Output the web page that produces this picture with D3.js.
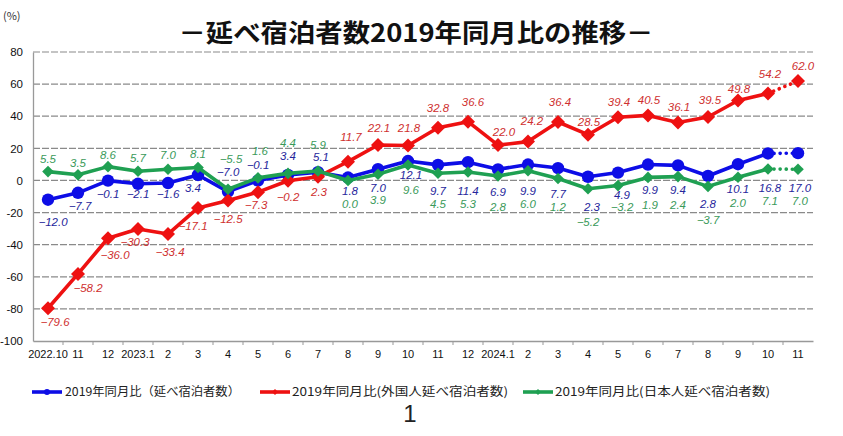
<!DOCTYPE html>
<html><head><meta charset="utf-8">
<script src="https://cdn.jsdelivr.net/npm/d3@7"></script>
<style>
html,body{margin:0;padding:0;background:#fff;}
svg{display:block;}
</style>
</head><body>
<svg id="chart" width="843" height="436"></svg>
<script>
// ---- data ----
const categories = ["2022.10","11","12","2023.1","2","3","4","5","6","7","8","9","10","11 ","12 ","2024.1","2 ","3 ","4 ","5 ","6 ","7 ","8 ","9 ","10 ","11  "];
const tickLabels = ["2022.10","11","12","2023.1","2","3","4","5","6","7","8","9","10","11","12","2024.1","2","3","4","5","6","7","8","9","10","11"];
const totalValues    = [-12.0,-7.7,-0.1,-2.1,-1.6,3.4,-7.0,-0.1,3.4,5.1,1.8,7.0,12.1,9.7,11.4,6.9,9.9,7.7,2.3,4.9,9.9,9.4,2.8,10.1,16.8,17.0];
const foreignValues  = [-79.6,-58.2,-36.0,-30.3,-33.4,-17.1,-12.5,-7.3,-0.2,2.3,11.7,22.1,21.8,32.8,36.6,22.0,24.2,36.4,28.5,39.4,40.5,36.1,39.5,49.8,54.2,62.0];
const japaneseValues = [5.5,3.5,8.6,5.7,7.0,8.1,-5.5,1.6,4.4,5.9,0.0,3.9,9.6,4.5,5.3,2.8,6.0,1.2,-5.2,-3.2,1.9,2.4,-3.7,2.0,7.1,7.0];
const yTicks = [80,60,40,20,0,-20,-40,-60,-80,-100];
const seriesNames = ["2019年同月比（延べ宿泊者数）","2019年同月比(外国人延べ宿泊者数)","2019年同月比(日本人延べ宿泊者数)"];

// ---- label placement (layout, px offsets from the point) ----
const totalLabelDy = [22,13,13,10,11,13,-20,-16,-19,-15,13,19,14,26,29,23,26,26,30,22,25,25,28,25,35,35];
const totalLabelDx = [5,2,0,0,0,-5,0,0,0,3,2,0,3,0,0,0,0,0,4,4,2,0,0,0,2,2];
const foreignLabelDy = [14,14,17,13,18,18,18,13,16,15,-25,-17,-17,-20,-20,-13,-21,-20,-13,-15,-15,-16,-17,-12,-19,-15];
const foreignLabelDx = [7,10,7,-3,2,-5,0,-2,0,1,3,1,1,0,5,6,4,2,1,1,1,1,2,1,2,5];
const japaneseLabelDy = [-13,-12,-12,-13,-14,-13,-30,-27,-30,-26,24,26,25,31,32,31,33,28,33,21,28,28,34,26,32,32];
const japaneseLabelDx = [0,0,0,0,0,0,3,2,0,0,2,0,3,0,0,0,0,0,0,4,2,0,0,0,2,2];

const svg = d3.select("#chart");
const plotLeft = 33, plotRight = 813, plotTop = 52, plotBottom = 341;

const x = d3.scaleBand().domain(categories).range([plotLeft, plotRight]).paddingInner(0).paddingOuter(0);
const y = d3.scaleLinear().domain([-100, 80]).range([plotBottom, plotTop]);
const cx = (i) => x(categories[i]) + x.bandwidth() / 2;

const numFont = "'Liberation Sans', Arial, sans-serif";
const cjkFont = "'Noto Sans CJK JP', 'Noto Sans', sans-serif";

// title
svg.append("text")
  .attr("x", 416).attr("y", 42)
  .attr("text-anchor", "middle")
  .attr("font-family", cjkFont).attr("font-weight", "bold")
  .attr("font-size", 25).attr("fill", "#111")
  .attr("textLength", 475).attr("lengthAdjust", "spacingAndGlyphs")
  .text("－延べ宿泊者数2019年同月比の推移－");

svg.append("text")
  .attr("x", 3).attr("y", 20)
  .attr("font-family", cjkFont).attr("font-size", 11).attr("fill", "#333")
  .text("(%)");

// gridlines
svg.append("g").selectAll("line")
  .data(yTicks.filter(d => d !== -100))
  .join("line")
  .attr("x1", plotLeft).attr("x2", plotRight)
  .attr("y1", d => y(d)).attr("y2", d => y(d))
  .attr("stroke", "#8a8a8a").attr("stroke-width", 1.2)
  .attr("stroke-dasharray", "7,2");

// y axis
const yAxis = d3.axisLeft(y).tickValues(yTicks).tickSize(0).tickPadding(10).tickFormat(d => String(d));
const gy = svg.append("g").attr("transform", `translate(${plotLeft},0)`).call(yAxis);
gy.select(".domain").attr("stroke", "#999").attr("stroke-width", 1.3);
gy.selectAll("text").attr("font-family", numFont).attr("font-size", 11.5).attr("fill", "#111");

// x axis
const xAxis = d3.axisBottom(x).tickSize(0).tickPadding(9).tickFormat((d, i) => tickLabels[i]);
const gx = svg.append("g").attr("transform", `translate(0,${plotBottom})`).call(xAxis);
gx.select(".domain").attr("stroke", "#999").attr("stroke-width", 1.3);
gx.selectAll("text").attr("font-family", numFont).attr("font-size", 11).attr("fill", "#111");
// tick marks at band boundaries
svg.append("g").selectAll("line")
  .data(d3.range(1, categories.length))
  .join("line")
  .attr("x1", i => x(categories[i])).attr("x2", i => x(categories[i]))
  .attr("y1", plotBottom).attr("y2", plotBottom + 4)
  .attr("stroke", "#999").attr("stroke-width", 1);

// series
const series = [
  {vals: totalValues, color: "#0d0de6", labelColor: "#26269c", marker: "circle", size: 6.2, dy: totalLabelDy, dx: totalLabelDx},
  {vals: foreignValues, color: "#ee1111", labelColor: "#cf3030", marker: "diamond", size: 7, dy: foreignLabelDy, dx: foreignLabelDx},
  {vals: japaneseValues, color: "#1fa052", labelColor: "#3a9a5a", marker: "diamond", size: 5.8, dy: japaneseLabelDy, dx: japaneseLabelDx}
];

const line = d3.line().x((d) => cx(d.i)).y(d => y(d.v));

function drawMarker(g, type, size, color, px, py) {
  if (type === "circle") {
    g.append("circle").attr("cx", px).attr("cy", py).attr("r", size).attr("fill", color);
  } else {
    g.append("path")
      .attr("d", `M${px},${py - size}L${px + size},${py}L${px},${py + size}L${px - size},${py}Z`)
      .attr("fill", color);
  }
}

series.forEach(s => {
  const g = svg.append("g");
  const pts = s.vals.map((v, i) => ({i, v}));
  const n = pts.length;
  g.append("path").datum(pts.slice(0, n - 1))
    .attr("d", line).attr("fill", "none")
    .attr("stroke", s.color).attr("stroke-width", 3.6).attr("stroke-linejoin", "round");
  g.append("path").datum(pts.slice(n - 2))
    .attr("d", line).attr("fill", "none")
    .attr("stroke", s.color).attr("stroke-width", 3.6)
    .attr("stroke-dasharray", "0.1,6").attr("stroke-linecap", "round")
    .attr("stroke-dashoffset", -6);
  pts.forEach(p => drawMarker(g, s.marker, s.size, s.color, cx(p.i), y(p.v)));
});

// labels on top
series.forEach(s => {
  svg.append("g").selectAll("text")
    .data(s.vals.map((v, i) => ({v, i})))
    .join("text")
    .attr("x", d => cx(d.i) + s.dx[d.i])
    .attr("y", d => y(d.v) + s.dy[d.i])
    .attr("dy", "0.35em")
    .attr("text-anchor", "middle")
    .attr("font-family", numFont).attr("font-style", "italic")
    .attr("font-size", 11.5).attr("fill", s.labelColor)
    .text(d => (d.v < 0 ? "−" : "") + Math.abs(d.v).toFixed(1));
});

// legend
const legendItems = [
  {x0: 32, x1: 62, tx: 65, tl: 175},
  {x0: 260, x1: 290, tx: 292, tl: 216},
  {x0: 523, x1: 553, tx: 555, tl: 215}
];
const ly = 392;
legendItems.forEach((L, k) => {
  const s = series[k];
  const g = svg.append("g");
  g.append("line").attr("x1", L.x0).attr("x2", L.x1).attr("y1", ly).attr("y2", ly)
    .attr("stroke", s.color).attr("stroke-width", 3.6);
  drawMarker(g, s.marker, 3, s.color, (L.x0 + L.x1) / 2, ly);
  g.append("text").attr("x", L.tx).attr("y", ly).attr("dy", "0.36em")
    .attr("font-family", cjkFont).attr("font-size", 12).attr("fill", "#222")
    .attr("textLength", L.tl).attr("lengthAdjust", "spacingAndGlyphs")
    .text(seriesNames[k]);
});

// page number
svg.append("text").attr("x", 410).attr("y", 422).attr("text-anchor", "middle")
  .attr("font-family", numFont).attr("font-size", 24).attr("fill", "#222").text("1");
</script>
</body></html>
